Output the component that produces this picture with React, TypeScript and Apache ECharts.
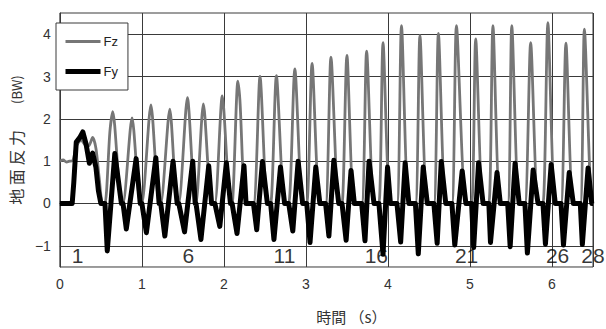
import React, { useEffect, useRef } from 'react';
import * as echarts from 'echarts';

// Standing / first step (step 1) read points [time s, BW]
const standFz: [number, number][] = [[0, 1.0], [0.04, 1.03], [0.08, 0.98], [0.12, 1.0], [0.16, 1.02], [0.2, 1.35], [0.26, 1.5], [0.31, 1.38], [0.35, 1.36], [0.4, 1.56], [0.44, 1.3], [0.48, 0.6], [0.52, 0]];
const standFy: [number, number][] = [[0, 0], [0.15, 0], [0.17, 0.5], [0.2, 1.45], [0.24, 1.55], [0.28, 1.69], [0.32, 1.4], [0.36, 0.95], [0.4, 1.19], [0.44, 0.85], [0.47, 0.3], [0.5, 0]];

// Steps 2..28
const stepPeakT = [0.645, 0.88, 1.11, 1.34, 1.555, 1.75, 1.98, 2.17, 2.44, 2.64, 2.865, 3.075, 3.305, 3.5, 3.74, 3.94, 4.165, 4.39, 4.615, 4.835, 5.07, 5.28, 5.51, 5.74, 5.95, 6.17, 6.395];
const fzPeak = [2.17, 2.02, 2.33, 2.23, 2.5, 2.35, 2.54, 2.89, 3.0, 3.02, 3.18, 3.31, 3.46, 3.5, 3.6, 3.8, 4.2, 3.97, 4.02, 4.2, 3.89, 4.2, 4.2, 3.8, 4.27, 3.79, 4.12];
const contactStart = [0.55, 0.77, 1.0, 1.23, 1.45, 1.66, 1.89, 2.1, 2.36, 2.57, 2.79, 3.01, 3.24, 3.44, 3.68, 3.89, 4.11, 4.335, 4.56, 4.78, 5.02, 5.23, 5.46, 5.67, 5.89, 6.11, 6.345];
const contactEnd = [0.75, 0.98, 1.21, 1.43, 1.65, 1.85, 2.08, 2.27, 2.53, 2.74, 2.96, 3.17, 3.4, 3.59, 3.83, 4.03, 4.255, 4.48, 4.705, 4.95, 5.16, 5.37, 5.6, 5.83, 6.04, 6.26, 6.485];
const fzShoulder: [number, number][] = [[0.61, 1.7], [2.195, 2.45]];
const fyNegT = [0.578, 0.81, 1.055, 1.28, 1.52, 1.72, 1.95, 2.16, 2.4, 2.61, 2.84, 3.05, 3.28, 3.49, 3.72, 3.94, 4.155, 4.37, 4.6, 4.815, 5.045, 5.25, 5.49, 5.7, 5.92, 6.14, 6.37];
const fyNeg = [-1.12, -0.6, -0.69, -0.77, -0.67, -0.85, -0.54, -0.71, -0.62, -0.85, -0.65, -0.92, -0.77, -0.87, -0.88, -1.2, -0.91, -1.19, -0.94, -0.98, -1.04, -0.92, -1.02, -1.17, -0.96, -0.98, -0.97];
const fyPosT = [0.67, 0.93, 1.17, 1.38, 1.62, 1.815, 2.03, 2.245, 2.47, 2.69, 2.905, 3.12, 3.34, 3.55, 3.77, 3.995, 4.21, 4.43, 4.65, 4.905, 5.105, 5.33, 5.55, 5.77, 5.99, 6.21, 6.44];
const fyPos = [1.18, 1.06, 1.08, 1.0, 1.0, 0.89, 0.96, 0.89, 0.99, 0.86, 1.0, 0.86, 1.02, 0.78, 1.0, 0.86, 0.96, 0.86, 0.99, 0.77, 0.96, 0.73, 0.95, 0.79, 0.92, 0.73, 0.84];
const endT = 6.5;

// Step number annotations
const stepLabels = ['1', '6', '11', '16', '21', '26', '28'];
const stepLabelT = [0.14, 1.49, 2.6, 3.71, 4.81, 5.92, 6.35];
const stepLabelY = -1.24;

function buildFz(): [number, number][] {
  const pts: [number, number][] = [...standFz];
  stepPeakT.forEach((t, i) => {
    pts.push([contactStart[i], 0], [t, fzPeak[i]], [contactEnd[i], 0]);
  });
  pts.push(...fzShoulder);
  pts.push([endT, 0]);
  return pts.sort((a, b) => a[0] - b[0]);
}

function buildFy(): [number, number][] {
  const pts: [number, number][] = [...standFy];
  fyNegT.forEach((t, i) => {
    pts.push([contactStart[i], 0], [t, fyNeg[i]], [fyPosT[i], fyPos[i]], [contactEnd[i], 0]);
  });
  pts.push([endT, 0]);
  return pts.sort((a, b) => a[0] - b[0]);
}

export default function App() {
  const ref = useRef<HTMLDivElement>(null);
  useEffect(() => {
    if (!ref.current) return;
    const chart = echarts.init(ref.current, undefined, { renderer: 'svg' });
    const gridColor = '#3a3a3a';
    const cjk = "'Noto Sans CJK JP', sans-serif";
    chart.setOption({
      animation: false,
      backgroundColor: '#fff',
      textStyle: { fontFamily: "'Liberation Sans', 'Noto Sans CJK JP', sans-serif" },
      grid: { left: 56, right: 13, top: 13, bottom: 59, show: true, borderColor: gridColor, borderWidth: 1, backgroundColor: 'transparent' },
      legend: {
        left: 56,
        top: 23,
        orient: 'vertical',
        padding: [12, 10, 12, 7],
        itemWidth: 35,
        itemHeight: 14,
        itemGap: 17,
        borderColor: gridColor,
        borderWidth: 1,
        backgroundColor: '#fff',
        textStyle: { fontSize: 13, color: '#222', padding: [0, 0, 0, -2] },
        data: [
          { name: 'Fz', lineStyle: { width: 2.8, color: '#767676' }, itemStyle: { opacity: 0 } },
          { name: 'Fy', lineStyle: { width: 5, color: '#000' }, itemStyle: { opacity: 0 } },
        ],
      },
      xAxis: {
        type: 'value',
        min: 0,
        max: 6.5,
        interval: 1,
        name: '時間 （s）',
        nameLocation: 'middle',
        nameGap: 42,
        nameTextStyle: { fontSize: 15, color: '#333', padding: [0, 0, 0, 50], fontFamily: cjk },
        axisLine: { show: true, lineStyle: { color: gridColor } },
        axisTick: { show: false },
        axisLabel: {
          fontSize: 14,
          color: '#333',
          margin: 10,
          formatter: (v: number) => (Number.isInteger(v) ? String(v) : ''),
        },
        splitLine: { show: true, lineStyle: { color: gridColor, width: 1 } },
      },
      yAxis: {
        type: 'value',
        min: -1.5,
        max: 4.5,
        interval: 0.5,
        name: '地 面 反 力{b|　　(BW)}',
        nameLocation: 'middle',
        nameGap: 25,
        nameRotate: 90,
        nameTextStyle: {
          fontSize: 16,
          color: '#333',
          fontFamily: cjk,
          rich: { b: { fontSize: 13, color: '#333', fontFamily: cjk } },
        },
        axisLine: { show: true, lineStyle: { color: gridColor } },
        axisTick: { show: false },
        axisLabel: {
          fontSize: 14,
          color: '#333',
          margin: 9,
          formatter: (v: number) => (Number.isInteger(v) ? (v < 0 ? '\u2212' + Math.abs(v) : String(v)) : ''),
        },
        splitLine: { show: true, lineStyle: { color: ['transparent', gridColor], width: 1 } },
      },
      series: [
        {
          name: 'Fz',
          type: 'line',
          data: buildFz(),
          symbol: 'none',
          smooth: 0.25,
          lineStyle: { color: '#767676', width: 2.8 },
          itemStyle: { color: '#767676' },
          z: 2,
        },
        {
          name: 'Fy',
          type: 'line',
          data: buildFy(),
          symbol: 'none',
          lineStyle: { color: '#000', width: 5, join: 'round' },
          itemStyle: { color: '#000' },
          z: 3,
        },
        {
          name: 'steps',
          type: 'scatter',
          symbolSize: 1,
          itemStyle: { color: 'transparent' },
          data: stepLabelT.map((t, i) => ({ value: [t, stepLabelY], name: stepLabels[i] })),
          label: {
            show: true,
            position: 'right',
            distance: 0,
            formatter: '{b}',
            fontSize: 21,
            color: '#000',
            fontFamily: "'Liberation Sans', sans-serif",
          },
          z: 4,
        },
      ],
    });
    return () => chart.dispose();
  }, []);
  return <div ref={ref} style={{ position: 'fixed', left: 0, top: 0, width: 606, height: 329 }} />;
}
